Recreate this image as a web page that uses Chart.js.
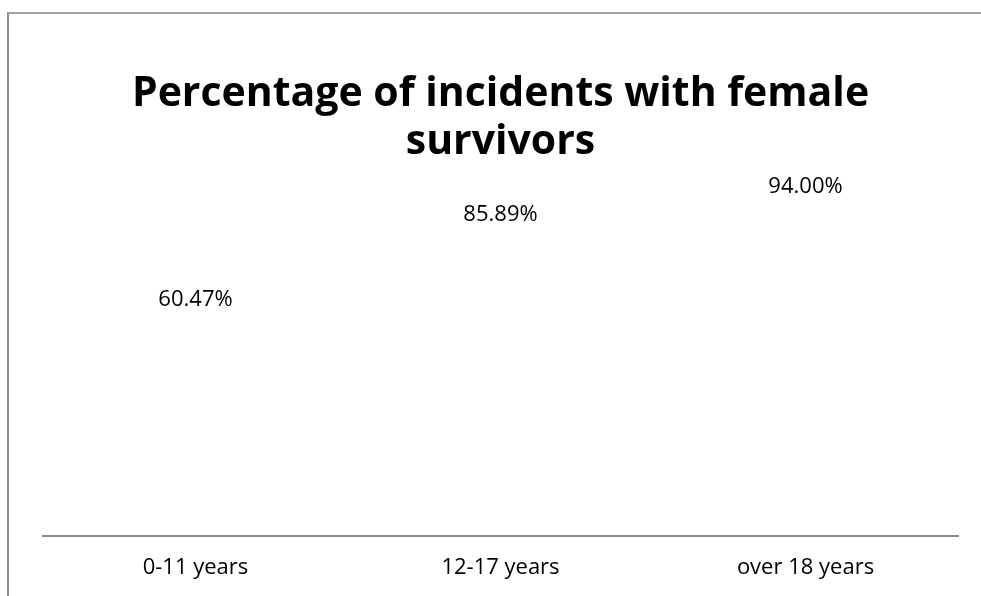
<!DOCTYPE html>
<html>
<head>
<meta charset="utf-8">
<script src="https://cdn.jsdelivr.net/npm/chart.js@4.4.0/dist/chart.umd.min.js"></script>
<style>
    html, body { margin: 0; padding: 0; background: #fff; }
    .wrap { position: relative; width: 981px; height: 596px; overflow: hidden; }
    .frame {
        position: absolute; left: 7px; top: 12px; width: 1200px; height: 800px;
        border-left: 2px solid #8c8c8c; border-top: 2px solid #a0a0a0;
    }
    canvas { position: absolute; left: 0; top: 0; }
</style>
</head>
<body>
<div class="wrap">
    <div class="frame"></div>
    <canvas id="chart" width="981" height="620"></canvas>
</div>
<script>
// Chart data
const titleLines = ['Percentage of incidents with female', 'survivors'];
const categories = ['0-11 years', '12-17 years', 'over 18 years'];
const percentFemale = [60.47, 85.89, 94.00];

const fontFamily = "'Open Sans', sans-serif";

// Value labels above each (invisible) bar
const valueLabels = {
    id: 'valueLabels',
    afterDatasetsDraw(chart) {
        const ctx = chart.ctx;
        const meta = chart.getDatasetMeta(0);
        ctx.save();
        ctx.font = '22px ' + fontFamily;
        ctx.fillStyle = '#000';
        ctx.textAlign = 'center';
        ctx.textBaseline = 'middle';
        meta.data.forEach((bar, i) => {
            ctx.fillText(percentFemale[i].toFixed(2) + '%', bar.x, bar.y - 33);
        });
        ctx.restore();
    }
};

new Chart(document.getElementById('chart').getContext('2d'), {
    type: 'bar',
    data: {
        labels: categories,
        datasets: [{
            data: percentFemale,
            backgroundColor: 'rgba(0,0,0,0)',
            borderWidth: 0
        }]
    },
    options: {
        responsive: false,
        animation: false,
        // canvas is a bit taller than the visible box, bottom is clipped
        layout: { padding: { left: 43, right: 23, top: 0, bottom: 20 } },
        plugins: {
            legend: { display: false },
            tooltip: { enabled: false },
            title: {
                display: true,
                text: titleLines,
                color: '#000',
                font: { family: fontFamily, size: 41, weight: 'bold', lineHeight: 1.17 },
                padding: { top: 70, bottom: 34 }
            }
        },
        scales: {
            x: {
                grid: { display: false, drawTicks: false },
                border: { display: true, color: '#8c8c8c', width: 2 },
                ticks: { color: '#000', padding: 19, font: { family: fontFamily, size: 22 } }
            },
            y: {
                display: false,
                min: 0,
                max: 100
            }
        }
    },
    plugins: [valueLabels]
});
</script>
</body>
</html>
